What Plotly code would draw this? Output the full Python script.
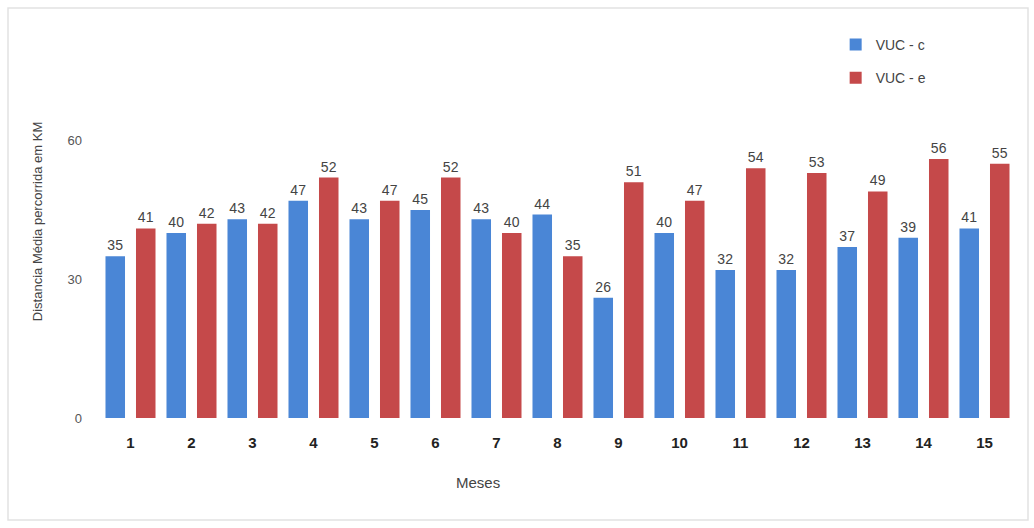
import plotly.graph_objects as go

# Monthly average distance travelled (km) per vehicle type
meses = [str(i) for i in range(1, 16)]
vuc_c = [35, 40, 43, 47, 43, 45, 43, 44, 26, 40, 32, 32, 37, 39, 41]
vuc_e = [41, 42, 42, 52, 47, 52, 40, 35, 51, 47, 54, 53, 49, 56, 55]
y_ticks = [0, 30, 60]

BLUE = "#4a86d6"
RED = "#c5494a"
FONT = "Liberation Sans, Arial, sans-serif"

fig = go.Figure()
fig.add_trace(go.Bar(
    x=meses, y=vuc_c, name="VUC - c", legendgroup="c",
    marker=dict(color=BLUE, line=dict(width=0)),
    text=vuc_c, textposition="outside", cliponaxis=False,
    textfont=dict(family=FONT, size=14, color="#444444"),
))
fig.add_trace(go.Bar(
    x=meses, y=vuc_e, name="VUC - e", legendgroup="e",
    marker=dict(color=RED, line=dict(width=0)),
    text=vuc_e, textposition="outside", cliponaxis=False,
    textfont=dict(family=FONT, size=14, color="#444444"),
))

fig.update_layout(
    width=1034, height=528,
    margin=dict(l=100, r=19, t=25, b=110),
    paper_bgcolor="white", plot_bgcolor="white",
    barmode="group", bargap=0.0, bargroupgap=0.36,
    font=dict(family=FONT, color="#444444"),
    showlegend=True,
    legend=dict(
        x=0.804, y=0.990, xanchor="left", yanchor="top",
        font=dict(size=14, color="#444444"),
        bgcolor="rgba(0,0,0,0)", itemwidth=30, tracegroupgap=12,
    ),
    xaxis=dict(
        type="category", range=[-0.5, 14.5],
        showgrid=False, showline=False, zeroline=False, ticks="",
        tickfont=dict(size=15, color="#222222", family=FONT, weight="bold"),
        ticklabelstandoff=14,
    ),
    yaxis=dict(
        range=[0, 85], tickvals=y_ticks,
        showgrid=False, showline=False, zeroline=False, ticks="",
        tickfont=dict(size=13, color="#555555"),
        ticklabelstandoff=17,
        title=dict(text="Distancia Média percorrida em KM",
                   font=dict(size=13, color="#444444"), standoff=21),
    ),
    annotations=[dict(
        text="Meses", xref="paper", yref="paper",
        x=(478 - 100) / 915, y=(418 - 482) / 393,
        xanchor="center", yanchor="middle", showarrow=False,
        font=dict(size=15, color="#444444"),
    )],
    shapes=[dict(
        type="rect", xref="paper", yref="paper",
        x0=(8 - 100) / 915, x1=(1028 - 100) / 915,
        y0=(418 - 520) / 393, y1=(418 - 8) / 393,
        line=dict(color="#e2e2e2", width=1.5), fillcolor="rgba(0,0,0,0)",
        layer="below",
    )],
)

fig.write_html("out.html")
